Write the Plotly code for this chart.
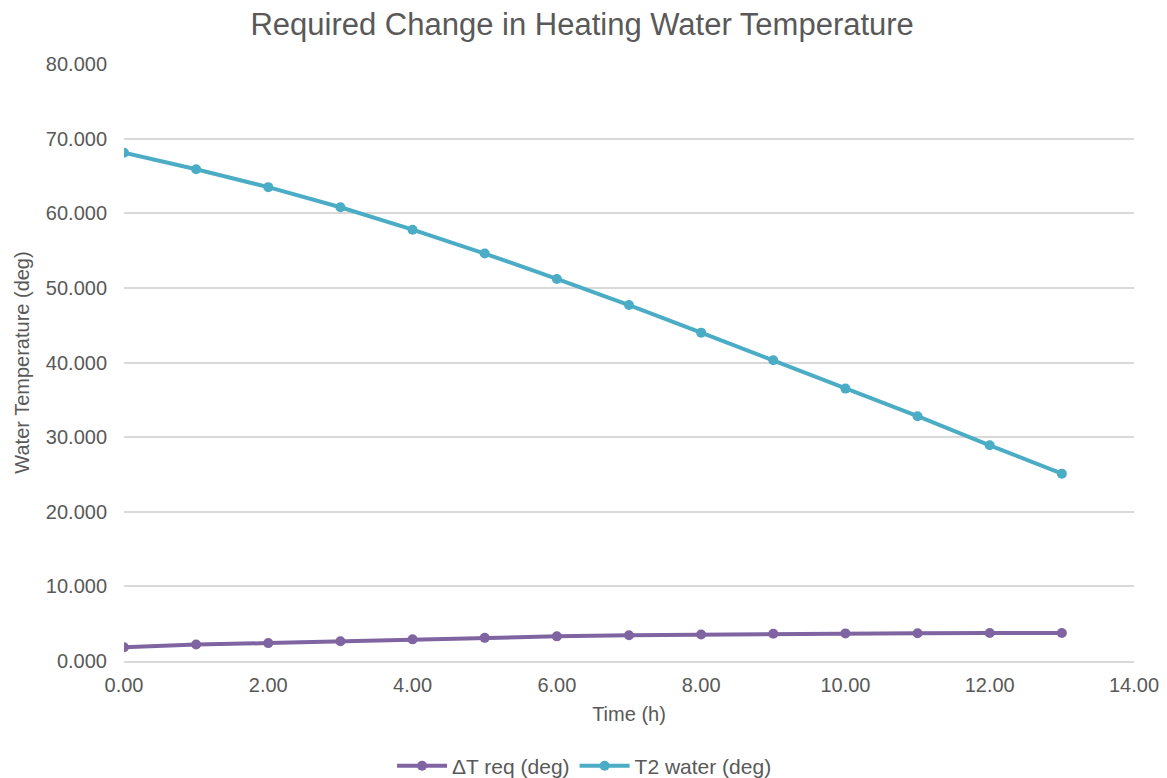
import plotly.graph_objects as go

time_h = [0, 1, 2, 3, 4, 5, 6, 7, 8, 9, 10, 11, 12, 13]
dt_req = [1.85, 2.2, 2.4, 2.65, 2.9, 3.1, 3.3, 3.45, 3.55, 3.65, 3.7, 3.72, 3.75, 3.75]
t2_water = [68.1, 65.9, 63.5, 60.8, 57.8, 54.6, 51.2, 47.7, 44.0, 40.3, 36.5, 32.8, 28.9, 25.1]

purple = "#8064a2"
teal = "#4bacc6"
grey = "#595959"
font_family = "Arial"

fig = go.Figure()
fig.add_trace(go.Scatter(x=time_h, y=dt_req, mode="lines+markers", name="ΔT req (deg)",
                         line=dict(color=purple, width=4), marker=dict(color=purple, size=10)))
fig.add_trace(go.Scatter(x=time_h, y=t2_water, mode="lines+markers", name="T2 water (deg)",
                         line=dict(color=teal, width=4), marker=dict(color=teal, size=10)))

fig.update_layout(
    width=1167, height=778,
    paper_bgcolor="white", plot_bgcolor="white",
    margin=dict(l=116, r=41, t=56, b=125, autoexpand=False),
    font=dict(family=font_family, color=grey, size=20),
    title=dict(text="Required Change in Heating Water Temperature", x=0.492, xanchor="center",
               xref="container", y=0.979, yanchor="middle", font=dict(size=31, color=grey)),
    legend=dict(orientation="h", x=0.456, xanchor="center", y=-0.176, yanchor="middle",
                font=dict(size=21, color=grey), itemwidth=50),
    showlegend=True,
)
fig.update_xaxes(range=[0, 14], dtick=2, tickformat=".2f", showgrid=False, zeroline=False,
                 showline=True, linecolor="#d9d9d9", linewidth=1.5, ticks="", ticklabelstandoff=5,
                 title=dict(text="Time (h)", font=dict(size=20, color=grey), standoff=12),
                 tickfont=dict(size=20, color=grey))
fig.update_yaxes(range=[0, 80], dtick=10, tickformat=".3f", showgrid=True, gridcolor="#d9d9d9",
                 gridwidth=1.5, zeroline=False, showline=False, ticks="", ticklabelstandoff=16,
                 title=dict(text="Water Temperature (deg)", font=dict(size=20, color=grey), standoff=10),
                 tickfont=dict(size=20, color=grey))

fig.write_html("out.html")
